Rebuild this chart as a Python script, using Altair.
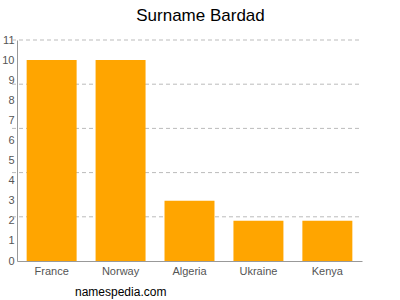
import altair as alt
import pandas as pd

countries = ["France", "Norway", "Algeria", "Ukraine", "Kenya"]
counts = [10, 10, 3, 2, 2]
y_labels = list(range(0, 12))
grid_values = [2.2, 4.4, 6.6, 8.8, 11]

df = pd.DataFrame({"country": countries, "count": counts})
grid_df = pd.DataFrame({"g": grid_values})
footer_df = pd.DataFrame({"t": ["namespedia.com"]})
title_df = pd.DataFrame({"t": ["Surname Bardad"]})

W, H = 345, 221
yscale = alt.Scale(domain=[0, 11], nice=False, zero=True)
yaxis = alt.Axis(values=y_labels, ticks=False, grid=False, labelColor="#555555",
                 labelFontSize=11, labelPadding=3, domainColor="#999999",
                 labelOverlap=False, labelFont="Liberation Sans")

grid = alt.Chart(grid_df).mark_rule(color="#bbbbbb", strokeDash=[4, 3], strokeWidth=1).encode(
    y=alt.Y("g:Q", scale=yscale, title=None, axis=yaxis),
    x=alt.value(-5),
    x2=alt.value(W),
)

bars = alt.Chart(df).mark_bar(color="#FFA500").encode(
    x=alt.X("country:N", sort=countries, title=None,
            scale=alt.Scale(paddingInner=0.275, paddingOuter=0.14),
            axis=alt.Axis(labelAngle=0, ticks=False, labelColor="#555555",
                          labelFontSize=11, labelPadding=4, domainColor="#999999",
                          labelFont="Liberation Sans")),
    y=alt.Y("count:Q", scale=yscale, title=None, axis=yaxis),
)

footer = alt.Chart(footer_df).mark_text(align="left", baseline="alphabetic", fontSize=12,
                                         color="#000000", font="Liberation Sans").encode(
    text="t:N", x=alt.value(58), y=alt.value(35 + H)
)

title = alt.Chart(title_df).mark_text(align="center", baseline="alphabetic", fontSize=17,
                                       color="#000000", font="Liberation Sans").encode(
    text="t:N", x=alt.value(W / 2 + 11), y=alt.value(-19)
)

chart = alt.layer(grid, bars, footer, title).properties(
    width=W, height=H,
    autosize=alt.AutoSizeParams(type="none"),
    padding={"left": 17, "top": 40, "right": 38, "bottom": 39},
).configure_view(stroke=None)

chart.save("out.html", embed_options={"renderer": "svg", "actions": False})
